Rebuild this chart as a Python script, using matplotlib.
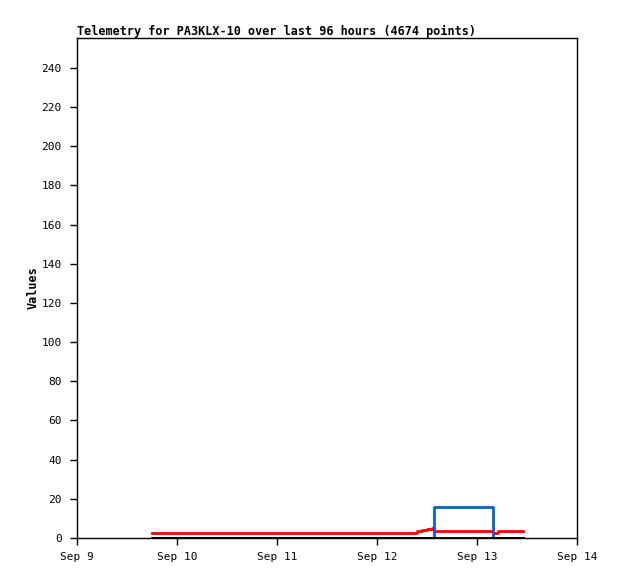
import matplotlib
matplotlib.use('Agg')
import matplotlib.pyplot as plt
import matplotlib.dates as mdates
import pandas as pd

# telemetry samples (step series)
red_times = ['2023-09-09 18:00', '2023-09-12 09:36', '2023-09-12 10:48', '2023-09-12 12:00',
             '2023-09-12 13:12', '2023-09-12 13:41', '2023-09-13 03:50', '2023-09-13 05:07',
             '2023-09-13 11:07']
red_vals = [2.7, 3.4, 3.9, 4.4, 5.0, 3.7, 2.6, 3.7, 3.7]

blue_times = ['2023-09-09 18:00', '2023-09-12 13:41', '2023-09-13 03:50', '2023-09-13 11:07']
blue_vals = [0, 16, 0, 0]

black_times = ['2023-09-09 18:00', '2023-09-13 11:07']
black_vals = [0, 0]

yticks = list(range(0, 241, 20))
title = 'Telemetry for PA3KLX-10 over last 96 hours (4674 points)'

plt.rcParams['font.family'] = ['DejaVu Sans Mono']
plt.rcParams['font.size'] = 8

fig = plt.figure(figsize=(6.18, 5.79), dpi=100)
ax = fig.add_axes([77/618, 1 - 538/579, 500/618, 500/579])

ax.plot(pd.to_datetime(red_times), red_vals, color='#ff0000', lw=2, drawstyle='steps-post')
ax.plot(pd.to_datetime(blue_times), blue_vals, color='#0066cc', lw=2, drawstyle='steps-post')
ax.plot(pd.to_datetime(black_times), black_vals, color='black', lw=2)

ax.set_xlim(pd.Timestamp('2023-09-09'), pd.Timestamp('2023-09-14'))
ax.set_ylim(0, 255.3)
ax.set_yticks(yticks)
ax.xaxis.set_major_locator(mdates.DayLocator())
ax.xaxis.set_major_formatter(mdates.DateFormatter('%b %-d'))
ax.tick_params(direction='out', length=5, width=1, pad=6)
ax.tick_params(axis='x', pad=5)
for s in ax.spines.values():
    s.set_linewidth(1)

ax.set_ylabel('Values', fontweight='bold', fontsize=8.5, labelpad=1)
fig.text(77/618, 1 - 31/579, title, fontweight='bold', fontsize=8.5, va='center', ha='left')

fig.savefig('out.png', dpi=100)
